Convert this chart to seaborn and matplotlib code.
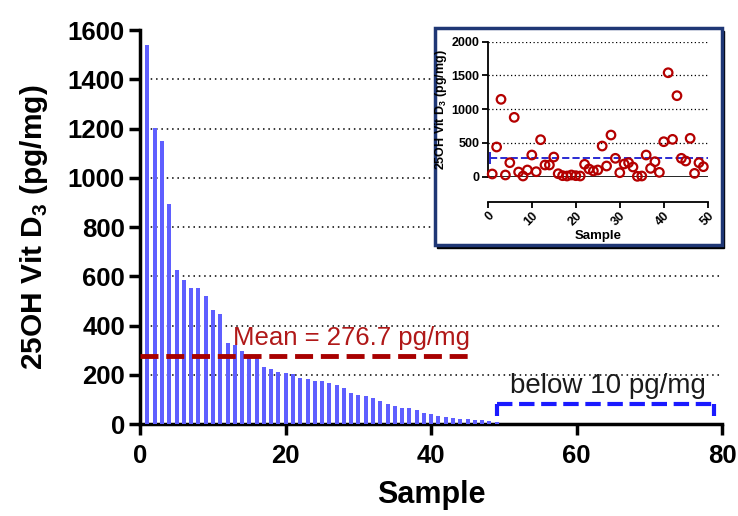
"""25OH Vit D3 per sample: sorted bars with an inset scatter of the raw order."""
import matplotlib
matplotlib.use('Agg')
import matplotlib.pyplot as plt
from matplotlib.patches import Rectangle
import numpy as np
import pandas as pd
import seaborn as sns

# sorted values shown as bars (pg/mg)
bar_values = [1540, 1202, 1149, 892, 624, 584, 551, 551, 520, 462, 446, 330,
              322, 297, 273, 273, 234, 223, 213, 209, 205, 189, 185, 174, 174,
              166, 158, 145, 126, 118, 115, 107, 92, 80, 72, 67, 64, 59, 47,
              40, 35, 29, 27, 20, 20, 16, 16, 13, 10]

# same samples in acquisition order (inset)
inset_values = [40, 440, 1146, 25, 207, 879, 69, 10, 99, 321, 74, 548, 173,
                173, 291, 44, 15, 10, 25, 15, 10, 183, 114, 84, 99, 454, 158,
                617, 272, 59, 188, 207, 143, 5, 10, 321, 123, 222, 64, 518,
                1540, 553, 1200, 272, 232, 568, 49, 207, 148]

mean_value = 276.7
mean_span = (0, 45)
below_span = (49, 78.9)
below_level = (32, 80)

main_xticks = [0, 20, 40, 60, 80]
main_yticks = [0, 200, 400, 600, 800, 1000, 1200, 1400, 1600]
inset_xticks = [0, 10, 20, 30, 40, 50]
inset_yticks = [0, 500, 1000, 1500, 2000]

BAR_COLOR = '#5f5fff'
MEAN_RED = '#a80000'
DOT_RED = '#b40000'
BRACKET_BLUE = '#1a1aff'

sns.set_style('ticks')
plt.rcParams['font.family'] = ['Liberation Sans', 'DejaVu Sans']
plt.rcParams['mathtext.fontset'] = 'custom'
plt.rcParams['mathtext.rm'] = 'Liberation Sans:bold'
plt.rcParams['mathtext.bf'] = 'Liberation Sans:bold'
for key in ['text.color', 'axes.labelcolor', 'xtick.color', 'ytick.color',
            'xtick.labelcolor', 'ytick.labelcolor']:
    plt.rcParams[key] = 'black'

bars = pd.DataFrame({'sample': np.arange(1, len(bar_values) + 1),
                     'value': bar_values})
raw = pd.DataFrame({'sample': np.arange(1, len(inset_values) + 1),
                    'value': inset_values})

fig = plt.figure(figsize=(7.38, 5.16), dpi=100)

# ---- main chart
ax = fig.add_axes([0.190, 0.178, 0.7886, 0.7636])
sns.barplot(data=bars, x='sample', y='value', native_scale=True,
            color=BAR_COLOR, saturation=1, width=0.55, errorbar=None,
            linewidth=0, ax=ax, zorder=3)

ax.set_xlim(main_xticks[0], main_xticks[-1])
ax.set_ylim(main_yticks[0], main_yticks[-1])
ax.set_xticks(main_xticks)
ax.set_yticks(main_yticks)
ax.yaxis.grid(True, linestyle=(0, (1, 2.5)), color='black', linewidth=1.1)
ygrid = ax.get_ygridlines()
ygrid[0].set_visible(False)
ygrid[-1].set_visible(False)
ax.set_axisbelow(True)

for side in ['top', 'right']:
    ax.spines[side].set_visible(False)
for side in ['left', 'bottom']:
    ax.spines[side].set_linewidth(2.5)
    ax.spines[side].set_color('black')
ax.tick_params(axis='both', direction='out', length=8, width=2.5,
               labelsize=18.5, pad=3)
ax.tick_params(axis='x', pad=6)
for lab in ax.get_xticklabels() + ax.get_yticklabels():
    lab.set_fontweight('bold')

ax.set_xlabel('Sample', fontsize=22, fontweight='bold', labelpad=9)
ax.set_ylabel(r'25OH Vit D$_3$ (pg/mg)', fontsize=21.5, fontweight='bold',
              labelpad=13)

# mean line with label
ax.plot(mean_span, [mean_value, mean_value], color=MEAN_RED, linewidth=3.5,
        linestyle='--', zorder=4)
ax.text(12.8, mean_value + 26, 'Mean = 276.7 pg/mg', color='#b01818',
        fontsize=18.5, ha='left', va='bottom')

# bracket for values below 10 pg/mg: solid legs, dashed top
ax.plot(below_span, [below_level[1], below_level[1]], color=BRACKET_BLUE,
        linewidth=3, linestyle='--', zorder=4)
for x_leg in below_span:
    ax.plot([x_leg, x_leg], below_level, color=BRACKET_BLUE, linewidth=3,
            solid_capstyle='butt', zorder=4)
ax.text(sum(below_span) / 2 + 0.3, below_level[1] + 22, 'below 10 pg/mg',
        color='#1a1a1a', fontsize=20, ha='center', va='bottom')

# ---- inset frame with shadow
frame = fig.add_axes([0.589, 0.525, 0.389, 0.4205])
frame.set_axis_off()
frame.add_patch(Rectangle((0.008, -0.012), 1.0, 1.0, transform=frame.transAxes,
                          facecolor='black', edgecolor='black',
                          clip_on=False))
frame.add_patch(Rectangle((0, 0), 1.0, 1.0, transform=frame.transAxes,
                          facecolor='white', edgecolor='#1f3775',
                          linewidth=2.5, clip_on=False))

# ---- inset scatter
ins = fig.add_axes([0.661, 0.6576, 0.298, 0.2616])
ins.patch.set_alpha(0)
sns.scatterplot(data=raw, x='sample', y='value', marker='o', s=38,
                facecolor='none', edgecolor=DOT_RED, linewidth=1.6,
                ax=ins, zorder=4, clip_on=False)
ins.plot([0.4, 50.4], [mean_value, mean_value], color='#2a2ad2',
         linewidth=1.4, linestyle='--', zorder=3)
ins.plot([0.4, 50.4], [mean_value, mean_value], color='#2a2ad2',
         linestyle='none', marker='|', markersize=9, markeredgewidth=1.4,
         zorder=3)

ins.set_xlim(inset_xticks[0], inset_xticks[-1])
ins.set_ylim(inset_yticks[0], inset_yticks[-1])
ins.set_xticks(inset_xticks)
ins.set_yticks(inset_yticks)
ins.yaxis.grid(True, linestyle=(0, (1, 2)), color='black', linewidth=0.9)
ins.get_ygridlines()[0].set_visible(False)
ins.axhline(0, color='black', linewidth=1.2, zorder=2)
ins.set_axisbelow(True)

ins.spines['top'].set_visible(False)
ins.spines['right'].set_visible(False)
ins.spines['bottom'].set_position(('outward', 18))
for side in ['left', 'bottom']:
    ins.spines[side].set_linewidth(1.3)
    ins.spines[side].set_color('black')
ins.tick_params(axis='both', direction='out', length=4, width=1.3,
                labelsize=9, pad=2)
for lab in ins.get_yticklabels():
    lab.set_fontweight('bold')
for lab in ins.get_xticklabels():
    lab.set_fontweight('bold')
    lab.set_rotation(45)
    lab.set_ha('right')
    lab.set_rotation_mode('anchor')

ins.set_xlabel('Sample', fontsize=9.5, fontweight='bold', labelpad=1)
ins.set_ylabel(r'25OH Vit D$_3$ (pg/mg)', fontsize=9, fontweight='bold',
               labelpad=2)

fig.savefig('out.png', dpi=100)
